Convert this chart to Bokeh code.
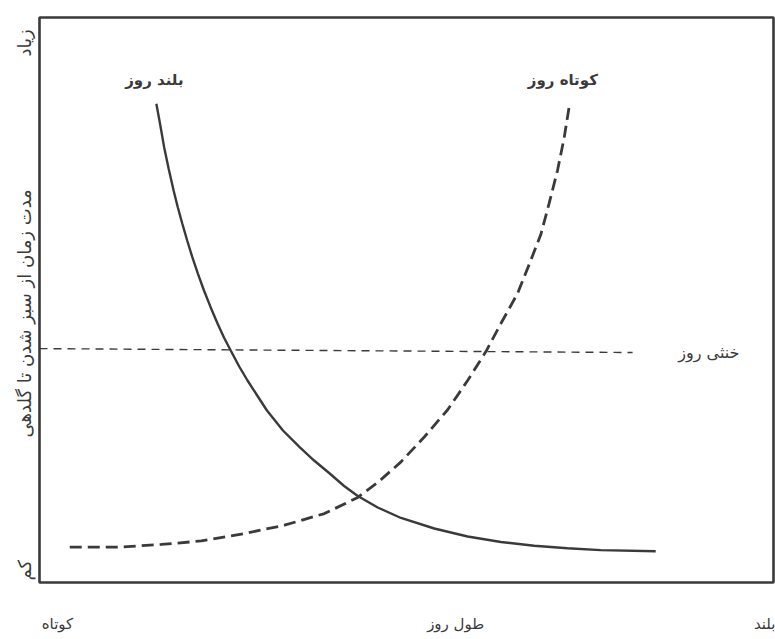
from bokeh.plotting import figure
from bokeh.models import Range1d, Label, FixedTicker
from bokeh.embed import file_html
from bokeh.resources import INLINE
import math

# --- data (arbitrary units, 0..10) ---
long_day_x = [1.592, 1.644, 1.698, 1.759, 1.827, 1.884, 1.946, 2.012, 2.082, 2.159,
              2.241, 2.331, 2.427, 2.513, 2.605, 2.721, 2.834, 2.966, 3.099, 3.317,
              3.544, 3.741, 3.946, 4.150, 4.336, 4.608, 4.925, 5.378, 5.833, 6.286,
              6.739, 7.193, 7.646, 8.395]
long_day_y = [8.473, 8.106, 7.705, 7.327, 6.938, 6.642, 6.349, 6.053, 5.758, 5.464,
              5.168, 4.873, 4.579, 4.336, 4.106, 3.823, 3.575, 3.310, 3.044, 2.690,
              2.395, 2.159, 1.938, 1.708, 1.531, 1.327, 1.142, 0.956, 0.814, 0.717,
              0.651, 0.605, 0.573, 0.554]

short_day_x = [0.412, 1.071, 1.660, 2.204, 2.793, 3.337, 3.882, 4.336, 4.608, 4.925,
               5.242, 5.561, 5.833, 6.082, 6.286, 6.513, 6.671, 6.830, 6.943, 7.057,
               7.147, 7.215]
short_day_y = [0.625, 0.625, 0.673, 0.735, 0.867, 1.014, 1.220, 1.506, 1.770, 2.135,
               2.575, 3.058, 3.575, 4.087, 4.584, 5.115, 5.628, 6.159, 6.709, 7.292,
               7.863, 8.412]

neutral_x = [0.0, 8.08]
neutral_y = [4.14, 4.07]

series_labels = ["بلند روز", "کوتاه روز", "خنثی روز"]
y_title = "مدت زمان از سبز شدن تا گلدهی"
y_ends = ["کم", "زیاد"]
x_title = "طول روز"
x_ends = ["کوتاه", "بلند"]

INK = "#3a3a3a"
FONT = "DejaVu Sans"

p = figure(width=775, height=639, output_backend="svg", toolbar_location=None,
           x_range=Range1d(0, 10), y_range=Range1d(0, 10),
           min_border_left=38, min_border_right=2, min_border_top=17, min_border_bottom=57)
p.grid.visible = False
p.outline_line_color = INK
p.outline_line_width = 2.6
p.background_fill_color = "white"
p.border_fill_color = "white"

# axes used only as text carriers
y_ticks = [0.40, 6.96, 9.79]
p.yaxis.ticker = FixedTicker(ticks=y_ticks)
p.yaxis.major_label_overrides = {y_ticks[0]: y_ends[0], y_ticks[1]: y_title, y_ticks[2]: y_ends[1]}
p.yaxis.major_label_orientation = math.pi / 2
p.yaxis.major_label_standoff = 9
p.yaxis.major_label_text_font_size = "18px"
x_ticks = [0.245, 5.67, 9.9]
p.xaxis.ticker = FixedTicker(ticks=x_ticks)
p.xaxis.major_label_overrides = {x_ticks[0]: x_ends[0], x_ticks[1]: x_title, x_ticks[2]: x_ends[1]}
p.xaxis.major_label_standoff = 26
p.xaxis.major_label_text_font_size = "15px"
for ax in (p.xaxis, p.yaxis):
    ax.axis_line_color = None
    ax.major_tick_line_color = None
    ax.minor_tick_line_color = None
    ax.major_label_text_font = FONT
    ax.major_label_text_color = INK

p.line(long_day_x, long_day_y, line_color=INK, line_width=2.4)
p.line(short_day_x, short_day_y, line_color=INK, line_width=2.8, line_dash="12 6")
p.line(neutral_x, neutral_y, line_color=INK, line_width=1.4, line_dash="8 6")

def lab(x, y, t, size="14px", bold=False):
    p.add_layout(Label(x=x, y=y, text=t, text_font=FONT, text_font_size=size,
                       text_font_style="bold" if bold else "normal",
                       text_color=INK, text_align="center", text_baseline="middle"))

lab(1.565, 8.885, series_labels[0], size="15px", bold=True)
lab(7.13, 8.885, series_labels[1], size="15px", bold=True)
lab(9.12, 4.07, series_labels[2], size="16px")

open("out.html", "w").write(file_html(p, INLINE))
